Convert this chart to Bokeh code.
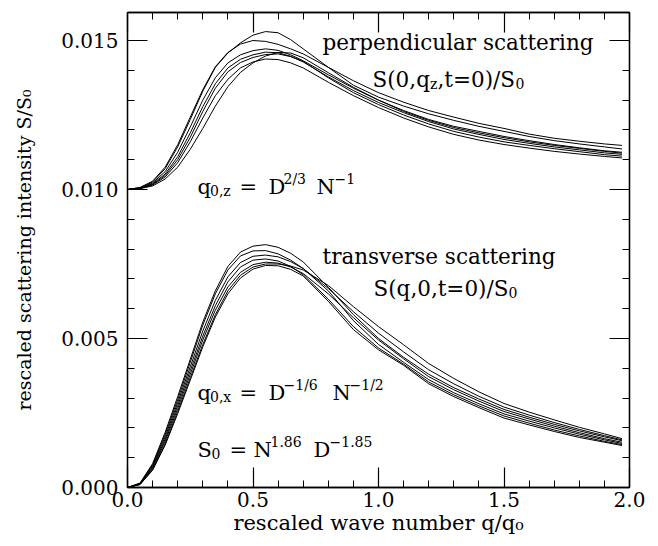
from bokeh.plotting import figure
from bokeh.models import (Range1d, LinearAxis, SingleIntervalTicker, PrintfTickFormatter,
                          CustomJSTickFormatter, ColumnDataSource)
from bokeh.embed import file_html
from bokeh.resources import INLINE
from bokeh.core.properties import value

# ---------------- data ----------------
Q = [0.0, 0.05, 0.1, 0.15, 0.2, 0.25, 0.3, 0.35, 0.4, 0.45, 0.5, 0.55, 0.6, 0.65,
     0.7, 0.8, 0.9, 1.0, 1.1, 1.2, 1.3, 1.4, 1.5, 1.6, 1.7, 1.8, 1.9, 1.97]

# perpendicular scattering S(0,qz,t=0)/S0
PERP_1 = [0.01000, 0.01006, 0.01025, 0.01070, 0.01143, 0.01235, 0.01330, 0.01410, 0.01458, 0.01492,
          0.01518, 0.01530, 0.01526, 0.01503, 0.01472, 0.01410, 0.01350, 0.01310, 0.01280, 0.01254,
          0.01232, 0.01212, 0.01195, 0.01178, 0.01164, 0.01153, 0.01143, 0.01136]
PERP_2 = [0.01000, 0.01007, 0.01028, 0.01075, 0.01150, 0.01243, 0.01335, 0.01412, 0.01460, 0.01488,
          0.01500, 0.01497, 0.01487, 0.01472, 0.01455, 0.01410, 0.01365, 0.01325, 0.01293, 0.01265,
          0.01243, 0.01222, 0.01205, 0.01186, 0.01172, 0.01162, 0.01153, 0.01148]
PERP_3 = [0.01000, 0.01005, 0.01022, 0.01060, 0.01125, 0.01210, 0.01300, 0.01375, 0.01425, 0.01452,
          0.01466, 0.01472, 0.01467, 0.01452, 0.01432, 0.01385, 0.01340, 0.01300, 0.01265, 0.01235,
          0.01212, 0.01195, 0.01178, 0.01164, 0.01151, 0.01140, 0.01130, 0.01125]
PERP_4 = [0.01000, 0.01004, 0.01019, 0.01052, 0.01110, 0.01190, 0.01278, 0.01355, 0.01408, 0.01437,
          0.01452, 0.01461, 0.01459, 0.01447, 0.01428, 0.01378, 0.01332, 0.01292, 0.01258, 0.01228,
          0.01203, 0.01185, 0.01168, 0.01155, 0.01143, 0.01133, 0.01123, 0.01118]
PERP_5 = [0.01000, 0.01004, 0.01017, 0.01047, 0.01100, 0.01175, 0.01262, 0.01340, 0.01395, 0.01426,
          0.01443, 0.01453, 0.01455, 0.01446, 0.01430, 0.01375, 0.01325, 0.01285, 0.01250, 0.01220,
          0.01195, 0.01176, 0.01160, 0.01148, 0.01137, 0.01127, 0.01117, 0.01112]
PERP_6 = [0.01000, 0.01004, 0.01015, 0.01042, 0.01090, 0.01160, 0.01240, 0.01315, 0.01370, 0.01408,
          0.01428, 0.01438, 0.01436, 0.01425, 0.01408, 0.01360, 0.01315, 0.01275, 0.01240, 0.01210,
          0.01185, 0.01166, 0.01151, 0.01139, 0.01128, 0.01119, 0.01111, 0.01106]
PERP_7 = [0.01000, 0.01003, 0.01012, 0.01035, 0.01075, 0.01135, 0.01205, 0.01280, 0.01345, 0.01393,
          0.01425, 0.01448, 0.01460, 0.01458, 0.01442, 0.01392, 0.01343, 0.01300, 0.01262, 0.01232,
          0.01208, 0.01190, 0.01174, 0.01160, 0.01148, 0.01138, 0.01128, 0.01122]

# transverse scattering S(q,0,t=0)/S0
TRANS_1 = [0.0, 0.00015, 0.00080, 0.00185, 0.00305, 0.00430, 0.00555, 0.00660, 0.00742, 0.00790,
           0.00810, 0.00815, 0.00806, 0.00786, 0.00757, 0.00672, 0.00580, 0.00500, 0.00437, 0.00380,
           0.00335, 0.00297, 0.00262, 0.00236, 0.00212, 0.00190, 0.00170, 0.00157]
TRANS_2 = [0.0, 0.00014, 0.00076, 0.00178, 0.00295, 0.00420, 0.00545, 0.00650, 0.00730, 0.00777,
           0.00794, 0.00795, 0.00784, 0.00763, 0.00735, 0.00660, 0.00560, 0.00480, 0.00420, 0.00362,
           0.00318, 0.00281, 0.00247, 0.00223, 0.00200, 0.00179, 0.00160, 0.00148]
TRANS_3 = [0.0, 0.00013, 0.00072, 0.00170, 0.00285, 0.00405, 0.00525, 0.00628, 0.00707, 0.00755,
           0.00776, 0.00780, 0.00774, 0.00758, 0.00735, 0.00668, 0.00590, 0.00518, 0.00455, 0.00395,
           0.00348, 0.00306, 0.00270, 0.00243, 0.00218, 0.00195, 0.00174, 0.00160]
TRANS_4 = [0.0, 0.00012, 0.00068, 0.00162, 0.00275, 0.00392, 0.00508, 0.00610, 0.00690, 0.00740,
           0.00763, 0.00767, 0.00760, 0.00742, 0.00714, 0.00632, 0.00540, 0.00468, 0.00414, 0.00354,
           0.00311, 0.00274, 0.00240, 0.00216, 0.00193, 0.00173, 0.00155, 0.00144]
TRANS_5 = [0.0, 0.00011, 0.00064, 0.00155, 0.00265, 0.00380, 0.00495, 0.00595, 0.00673, 0.00722,
           0.00748, 0.00756, 0.00753, 0.00740, 0.00718, 0.00650, 0.00570, 0.00495, 0.00432, 0.00372,
           0.00328, 0.00290, 0.00255, 0.00230, 0.00206, 0.00184, 0.00164, 0.00152]
TRANS_6 = [0.0, 0.00010, 0.00060, 0.00147, 0.00255, 0.00368, 0.00480, 0.00580, 0.00660, 0.00712,
           0.00740, 0.00750, 0.00750, 0.00743, 0.00730, 0.00678, 0.00607, 0.00540, 0.00479, 0.00416,
           0.00366, 0.00321, 0.00282, 0.00253, 0.00227, 0.00202, 0.00180, 0.00164]
TRANS_7 = [0.0, 0.00010, 0.00058, 0.00142, 0.00248, 0.00360, 0.00472, 0.00572, 0.00650, 0.00703,
           0.00733, 0.00745, 0.00744, 0.00732, 0.00710, 0.00625, 0.00530, 0.00462, 0.00410, 0.00348,
           0.00305, 0.00268, 0.00233, 0.00210, 0.00188, 0.00168, 0.00152, 0.00141]

PERP = [PERP_1, PERP_2, PERP_3, PERP_4, PERP_5, PERP_6, PERP_7]
TRANS = [TRANS_1, TRANS_2, TRANS_3, TRANS_4, TRANS_5, TRANS_6, TRANS_7]

X_LABEL = "rescaled wave number q/q\u2080"
Y_LABEL = "rescaled scattering intensity S/S\u2080"
X_MAX = 2.0
Y_MAX = 0.01594

# ---------------- figure ----------------
FONT = "DejaVu Serif"
p = figure(width=650, height=540, output_backend="svg", toolbar_location=None,
           x_range=Range1d(0, X_MAX), y_range=Range1d(0, Y_MAX),
           min_border_left=127, min_border_right=21, min_border_top=12, min_border_bottom=53)
p.background_fill_color = "white"
p.border_fill_color = "white"
p.outline_line_color = "black"
p.outline_line_width = 1.3
p.xgrid.visible = False
p.ygrid.visible = False

for s in PERP:
    p.line(Q, s, line_color="black", line_width=1)
for s in TRANS:
    p.line(Q, s, line_color="black", line_width=1)

tx = SingleIntervalTicker(interval=0.5, num_minor_ticks=5)
ty = SingleIntervalTicker(interval=0.005, num_minor_ticks=5)


def style_axis(ax):
    ax.axis_line_color = "black"
    ax.axis_line_width = 1.3
    ax.major_tick_in = 20
    ax.major_tick_out = 0
    ax.minor_tick_in = 7
    ax.minor_tick_out = 0
    ax.major_tick_line_color = "black"
    ax.minor_tick_line_color = "black"
    ax.major_tick_line_width = 1.2
    ax.minor_tick_line_width = 1.0
    ax.major_label_text_font = FONT
    ax.major_label_text_color = "black"
    ax.axis_label_text_font = FONT
    ax.axis_label_text_font_style = "normal"
    ax.axis_label_text_color = "black"


xa = p.xaxis[0]
ya = p.yaxis[0]
xa.ticker = tx
ya.ticker = ty
style_axis(xa)
style_axis(ya)
xa.formatter = PrintfTickFormatter(format="%.1f")
ya.formatter = PrintfTickFormatter(format="%.3f")
xa.major_label_text_font_size = "20px"
ya.major_label_text_font_size = "20px"
xa.major_label_standoff = 4
ya.major_label_standoff = 9
xa.axis_label = X_LABEL
ya.axis_label = Y_LABEL
xa.axis_label_text_font_size = "21px"
ya.axis_label_text_font_size = "19px"
xa.axis_label_standoff = 1
ya.axis_label_standoff = 23

# mirrored tick marks on top and right (no labels)
blank = CustomJSTickFormatter(code="return ''")
top = LinearAxis(ticker=tx, formatter=blank)
right = LinearAxis(ticker=ty, formatter=blank)
for ax in (top, right):
    style_axis(ax)
    ax.major_label_text_font_size = "2px"
    ax.major_label_standoff = 0
p.add_layout(top, "above")
p.add_layout(right, "right")

# ---------------- annotations ----------------
FX0, FX1, FY0, FY1 = 127.0, 629.0, 487.0, 12.0


def to_q(px):
    return (px - FX0) / (FX1 - FX0) * X_MAX


def to_s(py):
    return (FY0 - py) / (FY0 - FY1) * Y_MAX


MAIN = 21.0
BIG = 21.5
SMALL = 14.0
SUB = 4
SUP = -8

# (left px, baseline px, text, font px)
segments = [
    (322, 42, "perpendicular scattering", BIG),
    (372, 79, "S(0,q", BIG), (429.5, 79 + SUB, "z", SMALL), (437, 79, ",t=0)/S", BIG), (515, 79 + SUB, "0", SMALL),
    (322, 256, "transverse scattering", BIG),
    (373, 288, "S(q,0,t=0)/S", BIG), (508, 288 + SUB, "0", SMALL),
    # q0,z = D^(2/3) N^(-1)
    (197, 186, "q", MAIN), (209.5, 186 + SUB, "0,z", SMALL), (239, 186, "=", MAIN),
    (268, 186, "D", MAIN), (283, 186 + SUP, "2/3", SMALL), (316, 186, "N", MAIN), (334, 186 + SUP, "\u22121", SMALL),
    # q0,x = D^(-1/6) N^(-1/2)
    (197, 392, "q", MAIN), (209.5, 392 + SUB, "0,x", SMALL), (239, 392, "=", MAIN),
    (268, 392, "D", MAIN), (283, 392 + SUP, "\u22121/6", SMALL), (332, 392, "N", MAIN), (349, 392 + SUP, "\u22121/2", SMALL),
    # S0 = N^1.86 D^-1.85
    (197, 449, "S", MAIN), (211, 449 + SUB, "0", SMALL), (229, 449, "=", MAIN),
    (253, 449, "N", MAIN), (270, 449 + SUP, "1.86", SMALL), (313, 449, "D", MAIN), (329, 449 + SUP, "\u22121.85", SMALL),
]

src = ColumnDataSource(dict(
    x=[to_q(s[0]) for s in segments],
    y=[to_s(s[1]) for s in segments],
    text=[s[2] for s in segments],
    size=["%gpx" % s[3] for s in segments],
))
p.text(x="x", y="y", text="text", source=src, text_font=value(FONT), text_font_size="size",
       text_align="left", text_baseline="alphabetic", text_color="black")

open("out.html", "w").write(file_html(p, INLINE))
